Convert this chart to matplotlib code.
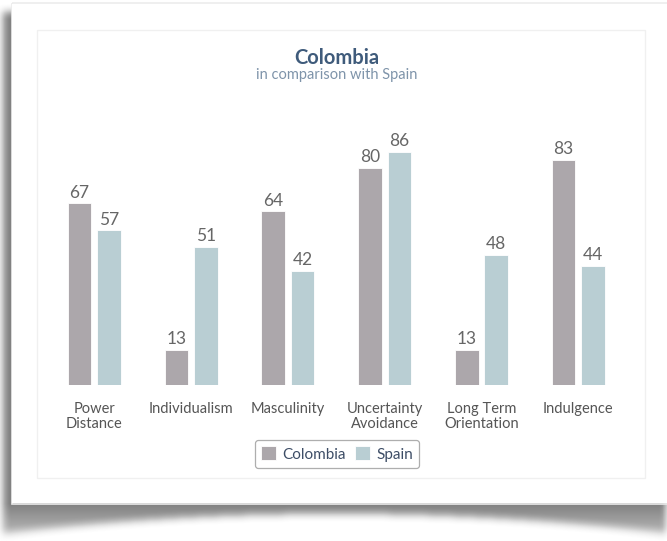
import numpy as np
import matplotlib.pyplot as plt
from matplotlib.path import Path
from matplotlib.patches import Rectangle

# Data
dimensions = ['Power\nDistance', 'Individualism', 'Masculinity',
              'Uncertainty\nAvoidance', 'Long Term\nOrientation', 'Indulgence']
colombia = [67, 13, 64, 80, 13, 83]
spain = [57, 51, 42, 86, 48, 44]

# Styles
COL_COLOMBIA = '#aca7ab'
COL_SPAIN = '#b9ced3'
plt.rcParams['font.family'] = ['Lato', 'DejaVu Sans']

W, H = 667, 541
fig = plt.figure(figsize=(W / 100, H / 100), dpi=100)
fig.patch.set_facecolor('white')

# Background layer in pixel coordinates (card + shadow)
bg = fig.add_axes([0, 0, 1, 1])
bg.set_xlim(0, W)
bg.set_ylim(H, 0)
bg.axis('off')

# Build shadow mask and blur it
yy, xx = np.mgrid[0:H, 0:W]
xs = np.linspace(3, 670, 60)
curve = 514 + 20 * ((xs - 336.5) / 333.5) ** 2
verts = [(3, 12)] + list(zip(xs, curve)) + [(670, 12), (3, 12)]
mask = Path(verts).contains_points(np.c_[xx.ravel() + 0.5, yy.ravel() + 0.5]).reshape(H, W).astype(float)


def box_blur(img, r):
    k = np.ones(2 * r + 1) / (2 * r + 1)
    img = np.apply_along_axis(lambda m: np.convolve(m, k, mode='same'), 0, img)
    img = np.apply_along_axis(lambda m: np.convolve(m, k, mode='same'), 1, img)
    return img


shadow = box_blur(box_blur(mask, 4), 4)
fade = 1 - 0.45 * np.clip((yy - 503) / 30, 0, 1)
rgba = np.zeros((H, W, 4))
rgba[..., :3] = 0.33
rgba[..., 3] = shadow * 0.75 * fade
bg.imshow(rgba, extent=(0, W, H, 0), zorder=0, interpolation='bilinear')

# faint top edge
bg.add_patch(Rectangle((12, 3), 660, 501, facecolor='none', edgecolor='#ececec', lw=1.2, zorder=1))
# white card
bg.add_patch(Rectangle((12, 4), 660, 499, facecolor='white', edgecolor='none', zorder=2))
# inner chart box
bg.add_patch(Rectangle((37, 30), 608, 448, facecolor='white', edgecolor='#f0f0f0', lw=1, zorder=3))

# Title and subtitle
bg.text(337, 58, 'Colombia', ha='center', va='center', fontsize=14.5,
        fontweight='bold', color='#3f5b7b', zorder=5)
bg.text(337, 75, 'in comparison with Spain', ha='center', va='center',
        fontsize=10.5, color='#7f94aa', zorder=5)

# Chart axes
ax = fig.add_axes([45.9 / W, (H - 385) / H, 580.8 / W, 271.2 / H])
ax.patch.set_alpha(0)
x = np.arange(len(dimensions))
bw = 0.245
off = 0.152
b1 = ax.bar(x - off, colombia, bw, color=COL_COLOMBIA, edgecolor='white',
            linewidth=0.6, label='Colombia')
b2 = ax.bar(x + off, spain, bw, color=COL_SPAIN, edgecolor='white',
            linewidth=0.6, label='Spain')

for bars in (b1, b2):
    for rect in bars:
        ax.annotate(f'{int(rect.get_height())}',
                    (rect.get_x() + rect.get_width() / 2, rect.get_height()),
                    xytext=(0, 2), textcoords='offset points',
                    ha='center', va='bottom', fontsize=12.5, color='#666666')

ax.set_xlim(-0.5, len(dimensions) - 0.5)
ax.set_ylim(0, 100)
ax.set_xticks(x)
ax.set_xticklabels(dimensions, fontsize=10.5, color='#555555', linespacing=1.15)
ax.tick_params(axis='x', length=0, pad=12)
ax.set_yticks([])
for s in ax.spines.values():
    s.set_visible(False)

leg = fig.legend(handles=[b1, b2], labels=['Colombia', 'Spain'],
                 loc='center', bbox_to_anchor=(337 / W, (H - 454) / H),
                 ncol=2, frameon=True, fontsize=11, handlelength=1.0,
                 handleheight=1.0, handletextpad=0.4, columnspacing=0.6,
                 borderpad=0.4, fancybox=True)
leg.get_frame().set_edgecolor('#9a9a9a')
leg.get_frame().set_linewidth(0.9)
for t in leg.get_texts():
    t.set_color('#3d4d66')

fig.savefig('out.png', dpi=100)
